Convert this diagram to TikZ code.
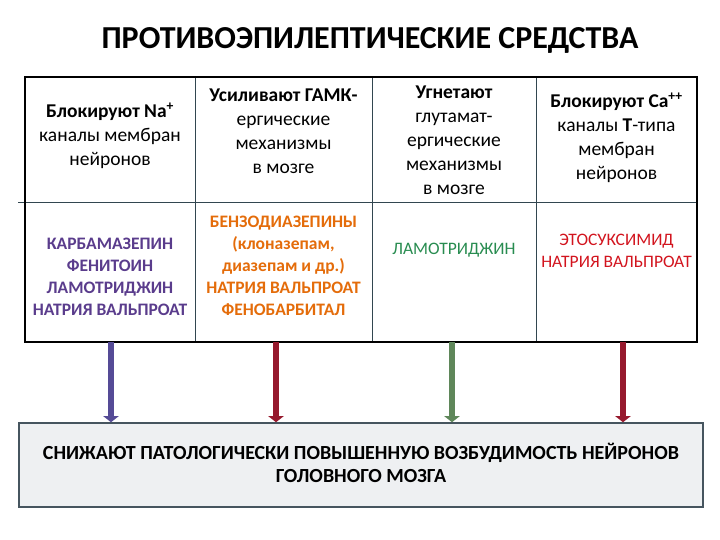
\documentclass[tikz,border=0pt]{standalone}
\usepackage{fontspec}
\setmainfont{Carlito}
\usetikzlibrary{arrows.meta}
\definecolor{drugpurple}{RGB}{90,60,140}
\definecolor{drugorange}{RGB}{228,108,10}
\definecolor{druggreen}{RGB}{40,140,80}
\definecolor{drugred}{RGB}{210,20,30}
\definecolor{arrpurple}{RGB}{85,75,150}
\definecolor{arrred}{RGB}{150,25,45}
\definecolor{arrgreen}{RGB}{95,135,90}
\definecolor{resfill}{RGB}{238,240,242}
\definecolor{resline}{RGB}{70,85,95}
\definecolor{gridline}{RGB}{50,70,80}
\begin{document}
\begin{tikzpicture}[x = 1pt, y = 1pt,
  head/.style = {align = center, font = \fontsize{19.5}{24}\selectfont},
  drug/.style = {align = center, font = \bfseries\fontsize{17.5}{22}\selectfont},
  arr/.style = {line width = 6pt, -{Triangle[length = 6pt, width = 15pt]}}]
\useasboundingbox (0,0) rectangle (720,540);
\node[font = \bfseries\fontsize{32}{36}\selectfont] (title) at (370,500) {ПРОТИВОЭПИЛЕПТИЧЕСКИЕ СРЕДСТВА};
% table
\draw[draw = gridline] (18,338) -- (697,338);
\draw[draw = gridline] (195,463) -- (195,198);
\draw[draw = gridline] (372,463) -- (372,198);
\draw[draw = gridline] (536,463) -- (536,198);
\draw[line width = 1.3pt] (25,198) rectangle (697,463);
\node[head] (h1) at (110,404) {\textbf{Блокируют Na\textsuperscript{+}}\\каналы мембран\\нейронов};
\node[head] (h2) at (283.5,409) {\textbf{Усиливают ГАМК-}\\ергические\\механизмы\\в мозге};
\node[head] (h3) at (454,400) {\textbf{Угнетают}\\глутамат-\\ергические\\механизмы\\в мозге};
\node[head] (h4) at (616.5,402) {\textbf{Блокируют Ca\textsuperscript{++}}\\каналы \textbf{Т}-типа\\мембран\\нейронов};
\node[drug, text = drugpurple] (d1) at (110,263) {КАРБАМАЗЕПИН\\ФЕНИТОИН\\ЛАМОТРИДЖИН\\НАТРИЯ ВАЛЬПРОАТ};
\node[drug, text = drugorange] (d2) at (283.5,274) {БЕНЗОДИАЗЕПИНЫ\\(клоназепам,\\диазепам и др.)\\НАТРИЯ ВАЛЬПРОАТ\\ФЕНОБАРБИТАЛ};
\node[drug, font = \fontsize{17.5}{22}\selectfont, text = druggreen] (d3) at (454,290) {ЛАМОТРИДЖИН};
\node[drug, font = \fontsize{17.5}{22}\selectfont, text = drugred] (d4) at (616.5,289) {ЭТОСУКСИМИД\\НАТРИЯ ВАЛЬПРОАТ};
% result
\node[draw = resline, line width = 1.5pt, fill = resfill, minimum width = 684pt, minimum height = 84pt,
  align = center, font = \bfseries\fontsize{20}{23}\selectfont] (res) at (361,75) {};
\node[align = center, font = \bfseries\fontsize{20}{23}\selectfont] (restext) at (361,77)
  {СНИЖАЮТ ПАТОЛОГИЧЕСКИ ПОВЫШЕННУЮ ВОЗБУДИМОСТЬ НЕЙРОНОВ\\ГОЛОВНОГО МОЗГА};
\coordinate (a1) at (111,198);
\coordinate (a2) at (276,198);
\coordinate (a3) at (452,198);
\coordinate (a4) at (623,198);
\draw[arr, draw = arrpurple, fill = arrpurple] (a1) -- (a1 |- res.north);
\draw[arr, draw = arrred, fill = arrred] (a2) -- (a2 |- res.north);
\draw[arr, draw = arrgreen, fill = arrgreen] (a3) -- (a3 |- res.north);
\draw[arr, draw = arrred, fill = arrred] (a4) -- (a4 |- res.north);
\end{tikzpicture}
\end{document}
